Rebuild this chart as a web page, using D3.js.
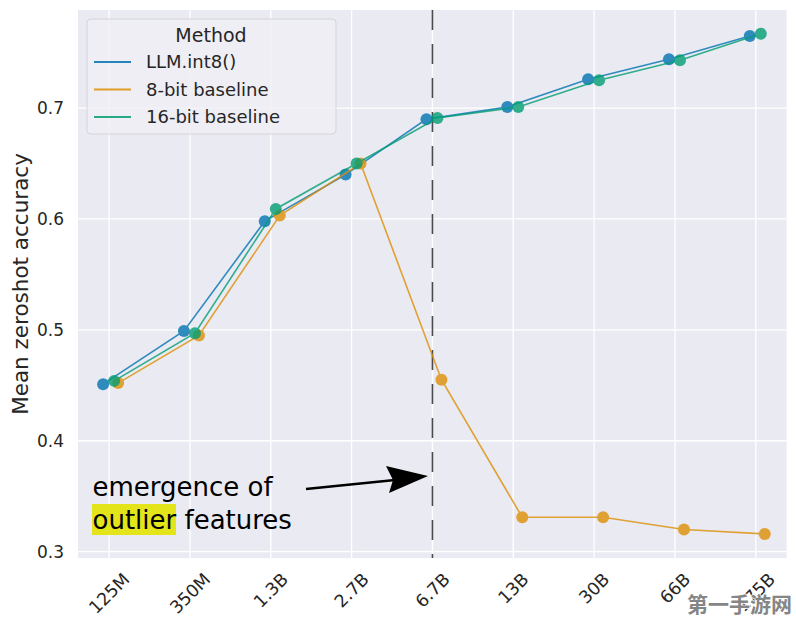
<!DOCTYPE html>
<html>
<head>
<meta charset="utf-8">
<script src="https://cdn.jsdelivr.net/npm/d3@7"></script>
<style>
  html, body { margin: 0; padding: 0; background: #ffffff; }
  svg { display: block; font-family: "DejaVu Sans", sans-serif; }
</style>
</head>
<body>
<svg id="chart" width="796" height="623"></svg>
<script>
// ---- data ----
const categories = ["125M", "350M", "1.3B", "2.7B", "6.7B", "13B", "30B", "66B", "175B"];
const llmInt8   = [0.451, 0.499, 0.598, 0.640, 0.690, 0.701, 0.726, 0.744, 0.765];
const baseline8 = [0.452, 0.495, 0.603, 0.650, 0.455, 0.331, 0.331, 0.320, 0.316];
const baseline16= [0.454, 0.497, 0.609, 0.650, 0.691, 0.701, 0.725, 0.743, 0.767];
const seriesNames = ["LLM.int8()", "8-bit baseline", "16-bit baseline"];
const yTicks = [0.3, 0.4, 0.5, 0.6, 0.7];
const yLabel = "Mean zeroshot accuracy";
const legendTitle = "Method";
const annotationLines = ["emergence of", "features"];
const highlightWord = "outlier";
const emergenceIndex = 4;
const watermark = "第一手游网";

// ---- layout ----
const svg = d3.select("#chart");
const plot = { left: 78, right: 786.5, top: 10, bottom: 558 };
const colors = ["#0173b2", "#de8f05", "#029e73"];
const dodge = [-6, 9, 5];
const textColor = "#262626";

const x = d3.scaleLinear().domain([-0.385, 8.38]).range([plot.left, plot.right]);
const y = d3.scaleLinear().domain([0.2943, 0.7884]).range([plot.bottom, plot.top]);

// background
svg.append("rect")
  .attr("x", plot.left).attr("y", plot.top)
  .attr("width", plot.right - plot.left).attr("height", plot.bottom - plot.top)
  .attr("fill", "#eaeaf2");

// grid
const grid = svg.append("g");
grid.selectAll("line.h").data(yTicks).join("line")
  .attr("x1", plot.left).attr("x2", plot.right)
  .attr("y1", d => y(d)).attr("y2", d => y(d))
  .attr("stroke", "#ffffff").attr("stroke-width", 1.3);
grid.selectAll("line.v").data(categories).join("line")
  .attr("x1", (d, i) => x(i)).attr("x2", (d, i) => x(i))
  .attr("y1", plot.top).attr("y2", plot.bottom)
  .attr("stroke", "#ffffff").attr("stroke-width", 1.3);

// y tick labels
svg.append("g").selectAll("text").data(yTicks).join("text")
  .attr("x", 64).attr("y", d => y(d))
  .attr("dy", "0.36em")
  .attr("text-anchor", "end")
  .attr("font-size", 17)
  .attr("fill", textColor)
  .text(d => d.toFixed(1));

// x tick labels (rotated 45, centered)
const xt = svg.append("g");
categories.forEach((c, i) => {
  const t = xt.append("text")
    .attr("text-anchor", "middle")
    .attr("dy", "0.35em")
    .attr("font-size", 17.5)
    .attr("fill", textColor)
    .text(c);
  const L = t.node().getComputedTextLength();
  const H = 17.5 * 1.164;
  const cy = 569 + (L + H) / (2 * Math.SQRT2);
  t.attr("transform", `translate(${x(i)},${cy}) rotate(-45)`);
});

// y label
svg.append("text")
  .attr("transform", `translate(28,${(plot.top + plot.bottom) / 2}) rotate(-90)`)
  .attr("text-anchor", "middle")
  .attr("font-size", 21.5)
  .attr("fill", textColor)
  .text(yLabel);

// dashed line at emergence
svg.append("line")
  .attr("x1", x(emergenceIndex)).attr("x2", x(emergenceIndex))
  .attr("y1", plot.top).attr("y2", plot.bottom)
  .attr("stroke", "#4a4a4a").attr("stroke-width", 1.6)
  .attr("stroke-dasharray", "20,14");

// series
const allSeries = [llmInt8, baseline8, baseline16];
const drawOrder = [0, 1, 2];
drawOrder.forEach(s => {
  const vals = allSeries[s];
  const g = svg.append("g").attr("opacity", 0.8);
  const line = d3.line().x((d, i) => x(i) + dodge[s]).y(d => y(d));
  g.append("path").datum(vals)
    .attr("d", line)
    .attr("fill", "none")
    .attr("stroke", colors[s])
    .attr("stroke-width", 1.6);
  g.selectAll("circle").data(vals).join("circle")
    .attr("cx", (d, i) => x(i) + dodge[s])
    .attr("cy", d => y(d))
    .attr("r", 6)
    .attr("fill", colors[s]);
});

// annotation
const ann = svg.append("g");
ann.append("rect")
  .attr("x", 92).attr("y", 504).attr("width", 84).attr("height", 31)
  .attr("fill", "#e4e41a");
ann.append("text")
  .attr("x", 92.5).attr("y", 496)
  .attr("font-size", 26).attr("fill", "#000")
  .text(annotationLines[0]);
const t2 = ann.append("text")
  .attr("x", 92.5).attr("y", 529)
  .attr("font-size", 26).attr("fill", "#000");
t2.append("tspan").text(highlightWord + " ");
t2.append("tspan").text(annotationLines[1]);

// arrow
ann.append("line")
  .attr("x1", 306).attr("y1", 489).attr("x2", 395).attr("y2", 480)
  .attr("stroke", "#000").attr("stroke-width", 2.4);
ann.append("path")
  .attr("d", "M428,476 L386,466 L393,480 L389,493 Z")
  .attr("fill", "#000");

// legend
const lg = svg.append("g");
lg.append("rect")
  .attr("x", 87).attr("y", 19).attr("width", 249).attr("height", 115)
  .attr("rx", 4)
  .attr("fill", "#eeeef4").attr("fill-opacity", 0.85)
  .attr("stroke", "#d4d4dc").attr("stroke-width", 1);
lg.append("text")
  .attr("x", 211).attr("y", 42)
  .attr("text-anchor", "middle")
  .attr("font-size", 19)
  .attr("fill", textColor)
  .text(legendTitle);
seriesNames.forEach((n, i) => {
  const yy = 62 + i * 27.5;
  lg.append("line")
    .attr("x1", 94).attr("x2", 131).attr("y1", yy).attr("y2", yy)
    .attr("stroke", colors[i]).attr("stroke-width", 1.8).attr("opacity", 0.85);
  lg.append("text")
    .attr("x", 146).attr("y", yy).attr("dy", "0.36em")
    .attr("font-size", 18)
    .attr("fill", textColor)
    .text(n);
});

// watermark
svg.append("text")
  .attr("x", 687).attr("y", 612)
  .attr("font-family", "Noto Sans CJK SC")
  .attr("font-weight", "bold")
  .attr("font-size", 21)
  .attr("fill", "#858585")
  .attr("stroke", "#ffffff").attr("stroke-width", 1.5)
  .attr("paint-order", "stroke")
  .text(watermark);
</script>
</body>
</html>
